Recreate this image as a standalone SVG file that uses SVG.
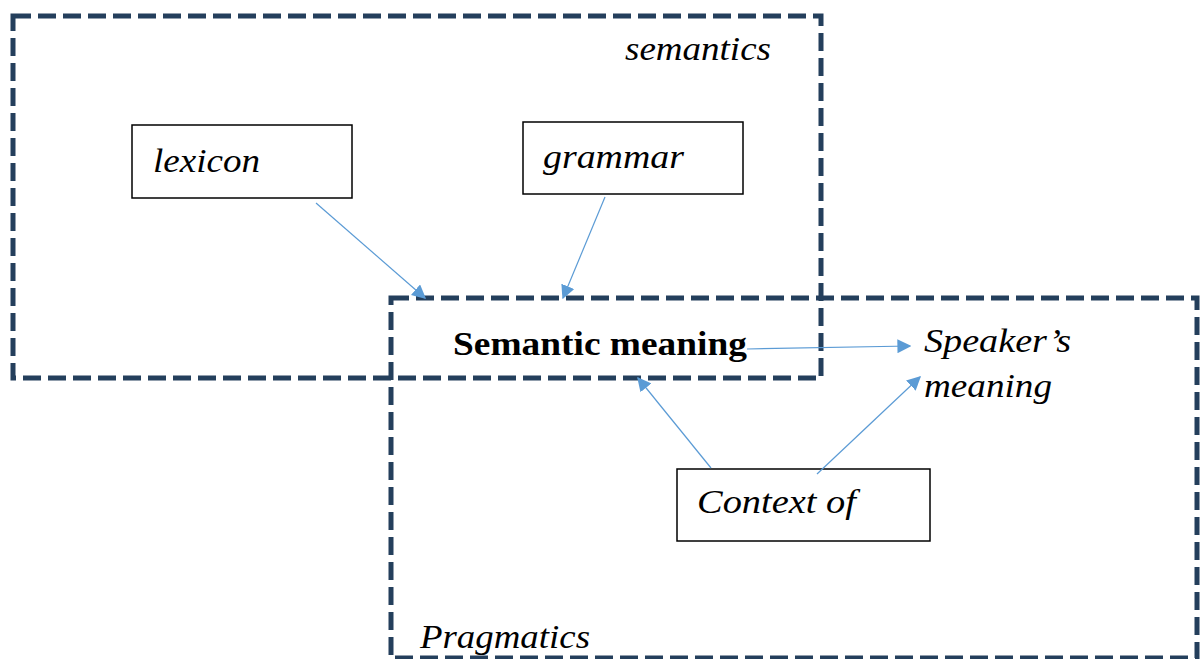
<svg xmlns="http://www.w3.org/2000/svg" width="1202" height="659" viewBox="0 0 1202 659">
<style>
.region{fill:none;stroke:#243F5C;stroke-width:5;stroke-dasharray:18 7}
.box{fill:#fff;stroke:#000;stroke-width:1.5}
.t{font-family:"Liberation Serif","Times New Roman",serif;font-size:34px;fill:#000}
.i{font-style:italic}
.b{font-weight:bold}
.conn{stroke:#5B9BD5;stroke-width:1.2;fill:none;marker-end:url(#ah)}
</style>
<defs>
<marker id="ah" viewBox="0 0 10 10" refX="9" refY="5" markerWidth="14" markerHeight="14" markerUnits="userSpaceOnUse" orient="auto">
<path d="M0,0 L10,5 L0,10 z" fill="#5B9BD5"/>
</marker>
</defs>
<rect width="1202" height="659" fill="#fff"/>
<g id="pragmatics-region">
<rect class="region" x="391" y="298" width="806" height="360"/>
<text class="t i" x="420" y="648" textLength="170" lengthAdjust="spacingAndGlyphs">Pragmatics</text>
</g>
<g id="semantics-region">
<rect class="region" x="13" y="16" width="808" height="362"/>
<text class="t i" x="625" y="60" textLength="146" lengthAdjust="spacingAndGlyphs">semantics</text>
</g>
<g id="lexicon">
<rect class="box" x="132" y="125" width="220" height="73"/>
<text class="t i" x="153" y="172" textLength="107" lengthAdjust="spacingAndGlyphs">lexicon</text>
</g>
<g id="grammar">
<rect class="box" x="523" y="122" width="220" height="72"/>
<text class="t i" x="543" y="168" textLength="141" lengthAdjust="spacingAndGlyphs">grammar</text>
</g>
<g id="semantic-meaning">
<text class="t b" x="453" y="355" textLength="294" lengthAdjust="spacingAndGlyphs">Semantic meaning</text>
</g>
<g id="speakers-meaning">
<text class="t i" x="924" y="352" textLength="147" lengthAdjust="spacingAndGlyphs">Speaker’s</text>
<text class="t i" x="924" y="397" textLength="128" lengthAdjust="spacingAndGlyphs">meaning</text>
</g>
<g id="context">
<rect class="box" x="677" y="469" width="253" height="72"/>
<text class="t i" x="697" y="513" textLength="159" lengthAdjust="spacingAndGlyphs">Context of</text>
</g>
<g id="connectors">
<line class="conn" x1="316" y1="203" x2="425" y2="298"/>
<line class="conn" x1="605" y1="197" x2="563" y2="298"/>
<line class="conn" x1="747" y1="349" x2="910" y2="346"/>
<line class="conn" x1="711" y1="468" x2="638" y2="378"/>
<line class="conn" x1="817" y1="474" x2="920" y2="377"/>
</g>
</svg>
